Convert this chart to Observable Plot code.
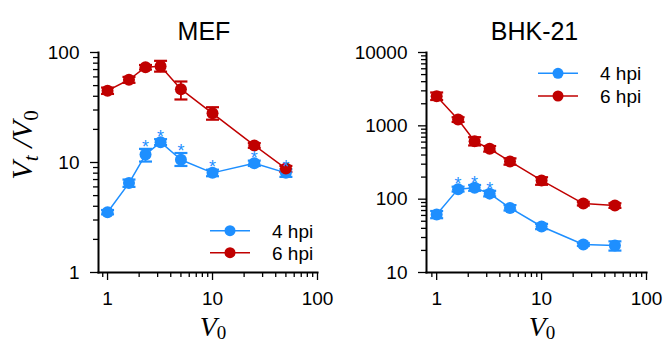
<!DOCTYPE html>
<html><head><meta charset="utf-8">
<script src="https://cdn.jsdelivr.net/npm/d3@7"></script>
<script src="https://cdn.jsdelivr.net/npm/@observablehq/plot@0.6"></script>
<style>
body{margin:0;background:#fff;font-family:"Liberation Sans",Arial,sans-serif;}
#wrap{position:relative;width:665px;height:344px;overflow:hidden;}
.panel{position:absolute;top:0;}
.panel svg{overflow:visible;}
</style></head><body>
<div id="wrap"><div id="p1" class="panel" style="left:0"></div><div id="p2" class="panel" style="left:330px"></div></div>
<script>
// ---- data ----
const v0 = [1, 1.6, 2.3, 3.2, 5, 10, 25, 50];
const seriesNames = ["4 hpi", "6 hpi"];
const titles = ["MEF", "BHK-21"];

const mef4   = [3.53, 6.5, 11.8, 15.3, 10.6, 8.05, 9.86, 8.05];
const mef4Lo = [3.38, 6.0, 10.2, 14.4, 9.3, 7.5, 9.3, 7.4];
const mef4Hi = [3.70, 7.0, 13.3, 16.3, 12.2, 8.6, 10.4, 8.7];
const mef6   = [45, 56.5, 73.6, 75, 46.4, 28, 14.3, 8.8];
const mef6Lo = [42, 53, 70, 67, 37.4, 24.5, 13.6, 8.2];
const mef6Hi = [48, 60, 77, 84, 54.5, 31.8, 15.0, 9.3];
const mefStars = [false, false, true, true, true, true, true, true];

const bhk4   = [61.8, 137, 143, 119, 76, 42.4, 24.1, 23.3];
const bhk4Lo = [55, 127, 130, 109, 70, 39, 23, 19.9];
const bhk4Hi = [69, 148, 156, 130, 83, 46, 25.3, 26.6];
const bhk6   = [2535, 1220, 617, 486, 327, 180, 87, 82];
const bhk6Lo = [2250, 1130, 540, 445, 295, 157, 82, 76];
const bhk6Hi = [2850, 1310, 700, 530, 360, 199, 92, 88];
const bhkStars = [false, true, true, true, false, false, false, false];

const xMajor = [1, 10, 100];
const yMajorMEF = [1, 10, 100];
const yMajorBHK = [10, 100, 1000, 10000];

const colors = ["#1e8fff", "#c00000"];

// ---- helpers ----
function minorTicks(majors, extraLow) {
  const out = extraLow ? [...extraLow] : [];
  for (let i = 0; i < majors.length - 1; i++) for (let k = 2; k <= 9; k++) out.push(majors[i] * k);
  return out;
}
function rows(v, lo, hi, name, stars) {
  return v0.map((x, i) => ({x, y: v[i], lo: lo[i], hi: hi[i], s: name, star: stars ? stars[i] : false}));
}
const capSymbol = {draw(ctx, size) { const w = Math.sqrt(size / Math.PI); ctx.moveTo(-w, 0); ctx.lineTo(w, 0); }};

function panel(el, opt) {
  const data = [...opt.d4, ...opt.d6];
  const color = {domain: seriesNames, range: colors};
  const marks = [
    Plot.axisY({ticks: minorTicks(opt.yMajor), tickSize: 5, tickFormat: () => "", label: null, strokeWidth: 1.3}),
    Plot.axisY({ticks: opt.yMajor, tickSize: 8, tickPadding: 11, tickFormat: d => String(d), fontSize: 19, label: null, strokeWidth: 1.3}),
    Plot.axisX({ticks: minorTicks(xMajor, [0.9]), tickSize: 5, tickFormat: () => "", label: null, strokeWidth: 1.3}),
    Plot.axisX({ticks: xMajor, tickSize: 8, tickPadding: 11, tickFormat: d => String(d), fontSize: 19, label: null, strokeWidth: 1.3}),
    Plot.frame({anchor: "left", strokeWidth: 2}),
    Plot.frame({anchor: "bottom", strokeWidth: 2}),
    Plot.line(data, {x: "x", y: "y", z: "s", stroke: "s", strokeWidth: 1.5}),
    Plot.ruleX(data, {x: "x", y1: "lo", y2: "hi", stroke: "s", strokeWidth: 1.8}),
    Plot.dot(data, {x: "x", y: "lo", stroke: "s", symbol: capSymbol, r: 6.5, strokeWidth: 2.2}),
    Plot.dot(data, {x: "x", y: "hi", stroke: "s", symbol: capSymbol, r: 6.5, strokeWidth: 2.2}),
    Plot.dot(data, {x: "x", y: "y", fill: "s", r: 6}),
    Plot.text(opt.d4.filter(d => d.star), {x: "x", y: "hi", text: () => "*", dy: -2, fill: colors[0], fontSize: 18}),
    Plot.text([opt.title], {frameAnchor: "top", dy: -30, dx: opt.titleDx, fontSize: 25, text: d => d})
  ];
  const svg = Plot.plot({
    width: opt.width, height: 344,
    marginLeft: opt.ml, marginRight: opt.mr, marginTop: 52, marginBottom: 72,
    style: {fontFamily: "'Liberation Sans', Arial, sans-serif", fontSize: "19px", color: "black", background: "transparent", overflow: "visible"},
    x: {type: "log", domain: opt.xDomain},
    y: {type: "log", domain: opt.yDomain},
    color,
    marks
  });
  el.appendChild(svg);
  const s = d3.select(svg);
  // x label
  const xl = s.append("text").attr("x", opt.xLabelX).attr("y", 336)
    .attr("text-anchor", "middle").attr("font-family", "'Liberation Serif', 'DejaVu Serif', serif")
    .attr("font-style", "italic").attr("font-size", 28).attr("fill", "black");
  xl.append("tspan").text("V");
  xl.append("tspan").attr("dy", 3).attr("font-size", 19).attr("font-style", "normal").text("0");
  // legend
  seriesNames.forEach((n, i) => {
    const y = opt.legY[i];
    const g = s.append("g");
    g.append("line").attr("x1", opt.legX).attr("x2", opt.legX + 40).attr("y1", y).attr("y2", y)
      .attr("stroke", colors[i]).attr("stroke-width", 1.5);
    g.append("circle").attr("cx", opt.legX + 20).attr("cy", y).attr("r", 5.5).attr("fill", colors[i]);
    g.append("text").attr("x", opt.legX + 62).attr("y", y + 7).attr("text-anchor", "start")
      .attr("font-size", 19).attr("fill", "black").text(n);
  });
  return s;
}

const s1 = panel(document.getElementById("p1"), {
  title: titles[0], width: 330, ml: 98, mr: 13, titleDx: -4,
  xDomain: [0.82, 100], yDomain: [1, 100], yMajor: yMajorMEF,
  d4: rows(mef4, mef4Lo, mef4Hi, seriesNames[0], mefStars),
  d6: rows(mef6, mef6Lo, mef6Hi, seriesNames[1]),
  xLabelX: 213, legX: 210, legY: [230.7, 252.7]
});
// y label (left panel)
const yl = s1.append("text").attr("transform", "translate(32,145) rotate(-90)")
  .attr("text-anchor", "middle").attr("font-family", "'Liberation Serif', 'DejaVu Serif', serif")
  .attr("font-style", "italic").attr("font-size", 30).attr("fill", "black");
yl.append("tspan").text("V");
yl.append("tspan").attr("dy", 6).attr("font-size", 21).text("t");
yl.append("tspan").attr("dy", -6).attr("dx", 8).text("/");
yl.append("tspan").text("V");
yl.append("tspan").attr("dy", 6).attr("font-size", 21).attr("font-style", "normal").text("0");

panel(document.getElementById("p2"), {
  title: titles[1], width: 335, ml: 96, mr: 19, titleDx: -2,
  xDomain: [0.8, 100], yDomain: [10, 10000], yMajor: yMajorBHK,
  d4: rows(bhk4, bhk4Lo, bhk4Hi, seriesNames[0], bhkStars),
  d6: rows(bhk6, bhk6Lo, bhk6Hi, seriesNames[1]),
  xLabelX: 212, legX: 208, legY: [73.3, 96]
});
</script>
</body></html>
